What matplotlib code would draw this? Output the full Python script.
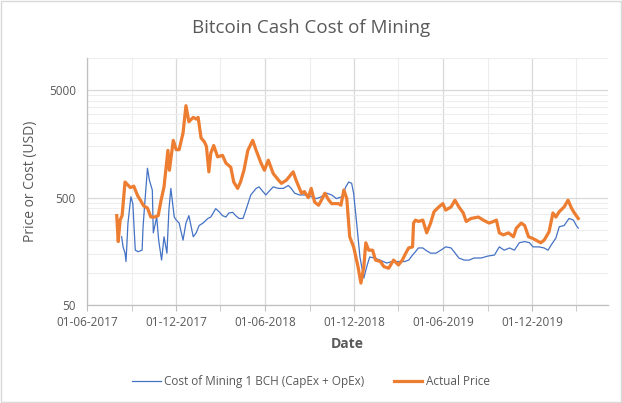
import matplotlib
matplotlib.use("Agg")
import matplotlib.pyplot as plt
import matplotlib.dates as mdates
import matplotlib.ticker as mticker
import pandas as pd

# ---- data ----
price_dates = ["2017-08-01","2017-08-04","2017-08-08","2017-08-12","2017-08-18","2017-08-29","2017-09-05",
    "2017-09-13","2017-09-19","2017-09-25","2017-10-03","2017-10-10","2017-10-18","2017-10-25","2017-10-31",
    "2017-11-06","2017-11-14","2017-11-17","2017-11-25","2017-12-01","2017-12-07","2017-12-15","2017-12-21",
    "2017-12-27","2018-01-05","2018-01-11","2018-01-15","2018-01-21","2018-01-28","2018-02-01","2018-02-06",
    "2018-02-10","2018-02-16","2018-02-24","2018-03-06","2018-03-13","2018-03-23","2018-03-29","2018-04-06",
    "2018-04-12","2018-04-19","2018-04-27","2018-05-07","2018-05-14","2018-05-24","2018-05-31","2018-06-08",
    "2018-06-18","2018-06-29","2018-07-05","2018-07-15","2018-07-29","2018-08-04","2018-08-15","2018-08-21",
    "2018-08-29","2018-09-04","2018-09-11","2018-09-19","2018-09-25","2018-10-02","2018-10-10","2018-10-16",
    "2018-10-30","2018-11-04","2018-11-10","2018-11-16","2018-11-22","2018-11-30","2018-12-09","2018-12-15",
    "2018-12-21","2018-12-25","2018-12-31","2019-01-08","2019-01-14","2019-01-24","2019-01-31","2019-02-10",
    "2019-02-20","2019-03-02","2019-03-10","2019-03-17","2019-03-23","2019-03-31","2019-04-02","2019-04-06",
    "2019-04-12","2019-04-21","2019-04-29","2019-05-07","2019-05-14","2019-05-24","2019-06-01","2019-06-07",
    "2019-06-18","2019-06-26","2019-07-04","2019-07-13","2019-07-19","2019-07-29","2019-08-13","2019-08-23",
    "2019-09-04","2019-09-13","2019-09-19","2019-09-25","2019-10-03","2019-10-14","2019-10-24","2019-10-30",
    "2019-11-09","2019-11-16","2019-11-24","2019-12-01","2019-12-09","2019-12-19","2019-12-26","2020-01-05",
    "2020-01-13","2020-01-19","2020-01-26","2020-02-05","2020-02-13","2020-02-20","2020-02-26","2020-03-05"]
price_values = [340,195,310,340,700,620,640,
    520,470,420,400,330,330,340,474,
    630,1380,900,1710,1400,1400,2000,3600,
    2550,2800,2700,2800,1800,1650,1500,870,
    1300,1530,1200,1240,1050,960,700,610,
    700,900,1380,1710,1380,1050,900,1117,
    840,727,680,727,870,727,550,570,
    500,610,455,425,474,550,474,440,
    440,425,590,490,216,174,114,80,
    114,190,162,162,131,127,114,110,
    131,118,131,152,170,174,290,309,
    300,309,235,290,370,410,440,383,
    410,474,410,360,300,320,330,309,
    290,300,309,235,225,235,216,260,
    290,275,216,210,201,190,201,240,
    360,330,370,410,474,400,360,320]

cost_dates = ["2017-08-11","2017-08-14","2017-08-18","2017-08-20","2017-08-24","2017-08-30","2017-09-03",
    "2017-09-08","2017-09-14","2017-09-22","2017-09-24","2017-09-28","2017-10-03","2017-10-07","2017-10-13",
    "2017-10-15","2017-10-22","2017-10-26","2017-11-01","2017-11-06","2017-11-12","2017-11-16","2017-11-20",
    "2017-11-27","2017-12-01","2017-12-07","2017-12-15","2017-12-21","2017-12-27","2018-01-05","2018-01-11",
    "2018-01-17","2018-01-25","2018-02-04","2018-02-10","2018-02-20","2018-02-27","2018-03-06","2018-03-13",
    "2018-03-19","2018-03-27","2018-04-02","2018-04-09","2018-04-17","2018-04-23","2018-05-03","2018-05-14",
    "2018-05-20","2018-05-28","2018-06-03","2018-06-09","2018-06-18","2018-06-29","2018-07-09","2018-07-19",
    "2018-07-25","2018-08-01","2018-08-11","2018-08-26","2018-09-05","2018-09-15","2018-09-25","2018-10-06",
    "2018-10-16","2018-10-26","2018-11-06","2018-11-14","2018-11-20","2018-11-26","2018-11-30","2018-12-07",
    "2018-12-13","2018-12-21","2018-12-27","2019-01-02","2019-01-12","2019-01-23","2019-02-06","2019-02-17",
    "2019-03-03","2019-03-15","2019-03-23","2019-03-31","2019-04-06","2019-04-12","2019-04-21","2019-04-27",
    "2019-05-07","2019-05-18","2019-05-28","2019-06-07","2019-06-18","2019-06-24","2019-07-04","2019-07-15",
    "2019-07-25","2019-08-04","2019-08-19","2019-09-02","2019-09-15","2019-09-25","2019-10-05","2019-10-16",
    "2019-10-26","2019-11-05","2019-11-16","2019-11-26","2019-12-03","2019-12-15","2019-12-26","2020-01-03",
    "2020-01-09","2020-01-19","2020-01-26","2020-02-05","2020-02-15","2020-02-24","2020-03-01","2020-03-05"]
cost_values = [216,174,152,127,290,510,440,
    162,157,162,268,474,940,727,587,
    235,330,201,131,216,152,383,610,
    330,309,290,201,290,340,216,235,
    275,290,320,330,395,370,340,330,
    360,365,340,320,320,383,530,610,
    630,570,530,570,630,610,610,650,
    610,550,530,530,510,490,510,550,
    530,490,510,630,700,680,550,268,
    140,89,114,140,137,131,123,127,
    127,127,131,146,157,170,170,162,
    152,152,162,174,170,157,137,131,
    131,137,137,143,146,174,162,170,
    162,190,195,190,174,174,170,162,
    180,210,268,275,320,309,275,260]

series_labels = ["Cost of Mining 1 BCH (CapEx + OpEx)", "Actual Price"]
y_ticks = [50, 500, 5000]
x_ticks = ["2017-06-01","2017-12-01","2018-06-01","2018-12-01","2019-06-01","2019-12-01"]

title = "Bitcoin Cash Cost of Mining"
x_label = "Date"
y_label = "Price or Cost (USD)"

# ---- drawing ----
FONT = ["Open Sans", "DejaVu Sans"]
plt.rcParams["font.family"] = FONT
TXT = "#595959"

fig = plt.figure(figsize=(6.22, 4.03), dpi=100)
ax = fig.add_axes([0.1399, 0.2432, 0.9775 - 0.1399, 0.856 - 0.2432])

cd = pd.to_datetime(cost_dates)
pdts = pd.to_datetime(price_dates)
ax.plot(cd, cost_values, color="#4472C4", lw=0.9, label=series_labels[0], zorder=3)
ax.plot(pdts, price_values, color="#ED7D31", lw=2.3, label=series_labels[1], zorder=4)

ax.set_yscale("log")
ax.set_ylim(50, 10000)
ax.set_xlim(pd.Timestamp("2017-06-01"), pd.Timestamp("2020-05-05"))

ax.yaxis.set_major_locator(mticker.FixedLocator(y_ticks))
ax.yaxis.set_major_formatter(mticker.FixedFormatter([str(v) for v in y_ticks]))
minor_y = [m * b for b in (50, 500, 5000) for m in range(2, 10)] + [10000]
ax.yaxis.set_minor_locator(mticker.FixedLocator(minor_y))
ax.yaxis.set_minor_formatter(mticker.NullFormatter())

xt = pd.to_datetime(x_ticks)
ax.set_xticks(xt)
ax.set_xticklabels([d.strftime("%d-%m-%Y") for d in xt])
minor_x = pd.to_datetime(["2017-09-01","2018-03-01","2018-09-01","2019-03-01","2019-09-01","2020-03-01"])
ax.set_xticks(minor_x, minor=True)

ax.grid(True, which="major", color="#D9D9D9", lw=0.9)
ax.grid(True, which="minor", color="#EDEDED", lw=0.8)
ax.set_axisbelow(True)

for s in ["top", "right"]:
    ax.spines[s].set_visible(False)
for s in ["left", "bottom"]:
    ax.spines[s].set_color("#BFBFBF")
    ax.spines[s].set_linewidth(0.9)

ax.tick_params(axis="both", which="both", colors="#BFBFBF", labelcolor=TXT, labelsize=8.5)
ax.tick_params(axis="x", which="major", length=4, pad=4)
ax.tick_params(axis="x", which="minor", length=4)
ax.tick_params(axis="y", which="major", length=0, pad=8)
ax.tick_params(axis="y", which="minor", length=0)

fig.text(0.5, 0.93, title, ha="center", va="center", fontsize=13.5, color=TXT)
ax.set_xlabel(x_label, fontsize=10, color=TXT, fontweight="bold", labelpad=6)
fig.text(0.049, 0.55, y_label, rotation=90, ha="center", va="center", fontsize=10, color=TXT)

leg = fig.legend(loc="center", bbox_to_anchor=(0.5, 0.054), ncol=2, frameon=False,
                 fontsize=8.5, handlelength=2.4, columnspacing=2.5, handletextpad=0.3)
for t in leg.get_texts():
    t.set_color(TXT)

border = plt.Rectangle((0.002, 0.002), 0.996, 0.996, transform=fig.transFigure,
                       fill=False, edgecolor="#D9D9D9", lw=1)
fig.patches.append(border)

fig.savefig("out.png", dpi=100)
